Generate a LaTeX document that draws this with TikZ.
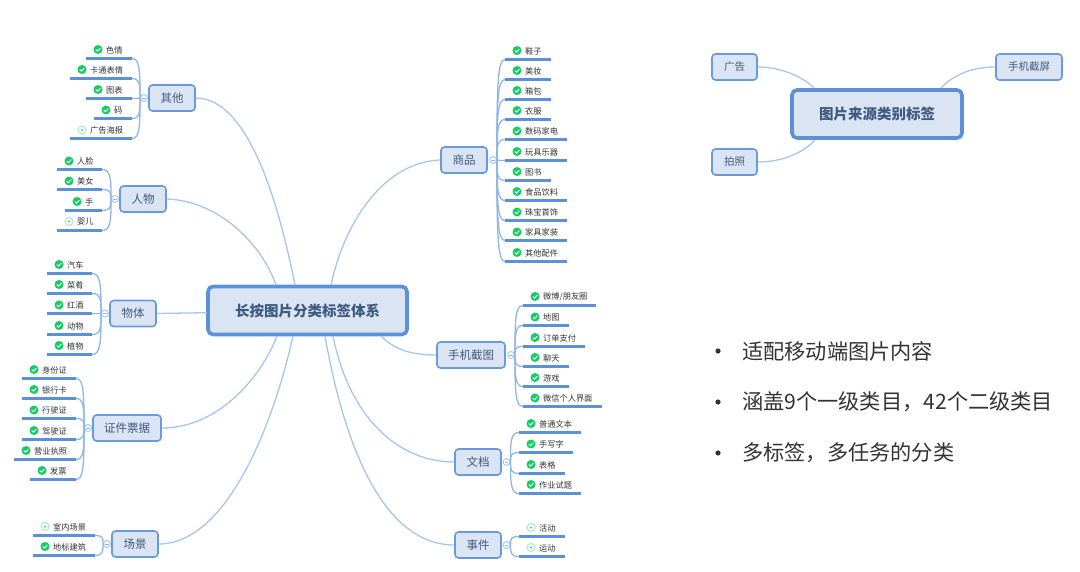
\documentclass[tikz,border=0pt]{standalone}
\usepackage{fontspec}
\setmainfont{Noto Sans CJK SC}
\definecolor{boxfill}{HTML}{DAE4F2}
\definecolor{boxline}{HTML}{6A9ADE}
\definecolor{mainline}{HTML}{5B91D8}
\definecolor{boxtext}{HTML}{3F5B80}
\definecolor{wire}{HTML}{A3C6F0}
\definecolor{twig}{HTML}{8FB6E8}
\definecolor{uline}{HTML}{5C90D8}
\definecolor{okgreen}{HTML}{10CE60}
\definecolor{palegreen}{HTML}{A4EEC2}
\definecolor{leaftext}{HTML}{333333}
\tikzset{
  branch/.style={draw=boxline,fill=boxfill,line width=1.6pt,rounded corners=3.5pt,minimum height=26pt,inner sep=0pt,text=boxtext,font=\fontsize{11.5}{13}\selectfont},
  rootbox/.style={draw=mainline,fill=boxfill,line width=3.6pt,rounded corners=5pt,minimum height=48pt,inner sep=0pt,text=boxtext,font=\fontsize{14.5}{17}\selectfont\bfseries},
  wireline/.style={draw=wire,line width=1.3pt},
  twigline/.style={draw=twig,line width=1.3pt},
  underline/.style={draw=uline,line width=2.2pt},
  fold/.style={circle,draw=wire,fill=white,line width=0.9pt,minimum size=7pt,inner sep=0pt},
  okdot/.style={circle,fill=okgreen,minimum size=9pt,inner sep=0pt},
  playdot/.style={circle,draw=palegreen,fill=white,line width=1pt,minimum size=8pt,inner sep=0pt},
  leaflabel/.style={anchor=west,inner sep=0pt,text=leaftext,font=\fontsize{8.2}{10}\selectfont},
  bullettext/.style={anchor=west,inner sep=0pt,text=leaftext,font=\fontsize{21.2}{25}\selectfont},
  sidelabel/.style={font=\fontsize{10.5}{12}\selectfont},
}
\newcommand\mkok[3]{\node[okdot] (#1) at (#2,#3) {};
  \draw[white,line width=1pt] (#2-2.2,#3+0.1)--(#2-0.5,#3+1.7)--(#2+2.3,#3-1.4);}
\newcommand\mkpl[3]{\node[playdot] (#1) at (#2,#3) {};
  \fill[okgreen!85] (#2,#3) circle (1.2pt);}
% name, parent, x0, x1, y, text, icon
\newcommand\lfL[7]{
  \coordinate (#1a) at (#3,{round(#5-0.5)+0.5}); \coordinate (#1b) at (#4,{round(#5-0.5)+0.5});
  \draw[twigline] (#2.west) .. controls ([yshift={0.72*(#5-\csname py#2\endcsname)*-1pt}]#2.west) and ([xshift=-0.5pt]#2.west |- #1b) .. (#1b);
  \draw[underline] (#1a)--(#1b);
  \csname mk#7\endcsname{#1i}{#3+12}{#5-8.5}
  \node[leaflabel] (#1t) at (#3+20,#5-8) {#6};
}
\newcommand\lfR[7]{
  \coordinate (#1a) at (#3,{round(#5-0.5)+0.5}); \coordinate (#1b) at (#4,{round(#5-0.5)+0.5});
  \draw[twigline] (#2.east) .. controls ([yshift={0.72*(#5-\csname py#2\endcsname)*-1pt}]#2.east) and ([xshift=0.5pt]#2.east |- #1a) .. (#1a);
  \draw[underline] (#1a)--(#1b);
  \csname mk#7\endcsname{#1i}{#3+12}{#5-8.5}
  \node[leaflabel] (#1t) at (#3+20,#5-8) {#6};
}
% name, x, y of a fold circle
\newcommand\foldnode[3]{
  \node[fold] (#1) at (#2,#3) {};
  \expandafter\gdef\csname py#1\endcsname{#3}
}
\newcommand\foldmark[1]{\draw[twig,line width=0.6pt] ([xshift=-1.6pt]#1.center)--([xshift=1.6pt]#1.center);}
\begin{document}
\begin{tikzpicture}[x=1pt,y=-1pt]
\useasboundingbox (0,0) rectangle (1080,572);
\node[rootbox,minimum width=199pt] (root) at (307.5,310.5) {长按图片分类标签体系};
\node[branch,minimum width=46pt] (qita) at (172,98) {其他};
\node[branch,minimum width=46pt] (renwu) at (143,199) {人物};
\node[branch,minimum width=46pt] (wuti) at (133,313.5) {物体};
\node[branch,minimum width=68pt] (zhengjian) at (127,428) {证件票据};
\node[branch,minimum width=46pt] (changjing) at (135,544) {场景};
\node[branch,minimum width=46pt] (shangpin) at (464,160) {商品};
\node[branch,minimum width=68pt] (shouji) at (471,355) {手机截图};
\node[branch,minimum width=46pt] (wendang) at (478,462) {文档};
\node[branch,minimum width=46pt] (shijian) at (478,545) {事件};
\coordinate (rA) at (295,285); \coordinate (rB) at (276,285);
\coordinate (rC) at (277,336); \coordinate (rD) at (293,336);
\coordinate (rE) at (331,285); \coordinate (rF) at (381,336);
\coordinate (rG) at (333,336); \coordinate (rH) at (325,336);
\coordinate (rI) at (207,312.7);
\draw[wireline] (qita.east) .. controls (250,98) and (280,210) .. (rA);
\draw[wireline] (renwu.east) .. controls (220,201) and (262,245) .. (rB);
\draw[wireline] (wuti.east) -- (rI);
\draw[wireline] (zhengjian.east) .. controls (220,428) and (262,375) .. (rC);
\draw[wireline] (changjing.east) .. controls (225,544) and (272,430) .. (rD);
\draw[wireline] (shangpin.west) .. controls (385,162) and (345,220) .. (rE);
\draw[wireline] (shouji.west) .. controls (412,355) and (395,350) .. (rF);
\draw[wireline] (wendang.west) .. controls (400,462) and (350,420) .. (rG);
\draw[wireline] (shijian.west) .. controls (385,545) and (345,450) .. (rH);
% fold circles
\foldnode{fa}{144}{98}
\foldnode{fb}{115}{199}
\foldnode{fc}{105}{313.5}
\foldnode{fd}{88}{428}
\foldnode{fe}{107}{544}
\foldnode{ff}{493}{160}
\foldnode{fg}{511}{355}
\foldnode{fh}{506.5}{462}
\foldnode{fi}{506.5}{545}
% leaves
\lfL{a1}{fa}{86}{132}{58}{色情}{ok}
\lfL{a2}{fa}{70}{132}{78}{卡通表情}{ok}
\lfL{a3}{fa}{86}{132}{98}{图表}{ok}
\lfL{a4}{fa}{94}{132}{118.5}{码}{ok}
\lfL{a5}{fa}{70}{132}{138.5}{广告海报}{pl}
\lfL{b1}{fb}{57}{102}{169.5}{人脸}{ok}
\lfL{b2}{fb}{57}{102}{189.5}{美女}{ok}
\lfL{b3}{fb}{65}{102}{210}{手}{ok}
\lfL{b4}{fb}{57}{102}{230}{婴儿}{pl}
\lfL{c1}{fc}{47}{92}{273}{汽车}{ok}
\lfL{c2}{fc}{47}{92}{293}{菜肴}{ok}
\lfL{c3}{fc}{47}{92}{313.5}{红酒}{ok}
\lfL{c4}{fc}{47}{92}{334}{动物}{ok}
\lfL{c5}{fc}{47}{92}{354}{植物}{ok}
\lfL{d1}{fd}{22}{76}{378}{身份证}{ok}
\lfL{d2}{fd}{22}{76}{398}{银行卡}{ok}
\lfL{d3}{fd}{22}{76}{418.5}{行驶证}{ok}
\lfL{d4}{fd}{22}{76}{439}{驾驶证}{ok}
\lfL{d5}{fd}{14}{76}{459}{营业执照}{ok}
\lfL{d6}{fd}{30}{76}{479}{发票}{ok}
\lfL{e1}{fe}{33}{95}{535}{室内场景}{pl}
\lfL{e2}{fe}{33}{95}{555}{地标建筑}{ok}
\lfR{f1}{ff}{505}{551}{59}{鞋子}{ok}
\lfR{f2}{ff}{505}{551}{79}{美妆}{ok}
\lfR{f3}{ff}{505}{551}{99}{箱包}{ok}
\lfR{f4}{ff}{505}{551}{119}{衣服}{ok}
\lfR{f5}{ff}{505}{567}{139.5}{数码家电}{ok}
\lfR{f6}{ff}{505}{567}{160}{玩具乐器}{ok}
\lfR{f7}{ff}{505}{551}{180}{图书}{ok}
\lfR{f8}{ff}{505}{567}{200}{食品饮料}{ok}
\lfR{f9}{ff}{505}{567}{220.5}{珠宝首饰}{ok}
\lfR{f10}{ff}{505}{567}{240.5}{家具家装}{ok}
\lfR{f11}{ff}{505}{567}{261}{其他配件}{ok}
\lfR{g1}{fg}{523}{596}{305}{微博/朋友圈}{ok}
\lfR{g2}{fg}{523}{569}{325.5}{地图}{ok}
\lfR{g3}{fg}{523}{585}{346}{订单支付}{ok}
\lfR{g4}{fg}{523}{569}{366}{聊天}{ok}
\lfR{g5}{fg}{523}{569}{386}{游戏}{ok}
\lfR{g6}{fg}{523}{602}{406.5}{微信个人界面}{ok}
\lfR{h1}{fh}{519}{581}{432}{普通文本}{ok}
\lfR{h2}{fh}{519}{573}{452.5}{手写字}{ok}
\lfR{h3}{fh}{519}{565}{473}{表格}{ok}
\lfR{h4}{fh}{519}{581}{493}{作业试题}{ok}
\lfR{i1}{fi}{519}{565}{536}{活动}{pl}
\lfR{i2}{fi}{519}{565}{556}{运动}{pl}
\foreach \f in {fa,fb,fc,fd,fe,ff,fg,fh,fi} {\foldmark{\f}}
% right diagram
\node[rootbox,minimum width=170pt] (src) at (877,114) {图片来源类别标签};
\node[branch,sidelabel,minimum width=45pt] (ad) at (734.5,67) {广告};
\node[branch,sidelabel,minimum width=66pt] (shot) at (1029,67) {手机截屏};
\node[branch,sidelabel,minimum width=45pt] (photo) at (734.5,162) {拍照};
\coordinate (sA) at (814,88); \coordinate (sB) at (941,88); \coordinate (sC) at (815,140);
\draw[wireline] (ad.east) .. controls (780,67) and (802,76) .. (sA);
\draw[wireline] (shot.west) .. controls (972,67) and (953,75) .. (sB);
\draw[wireline] (photo.east) .. controls (782,162) and (803,153) .. (sC);
% bullets
\node[bullettext] (p1) at (742,351) {适配移动端图片内容};
\node[bullettext] (p2) at (742,402) {涵盖9个一级类目，42个二级类目};
\node[bullettext] (p3) at (742,453) {多标签，多任务的分类};
\foreach \yy in {351,402,453} {\fill[leaftext] (718,\yy) circle (2.6pt);}
\end{tikzpicture}
\end{document}
